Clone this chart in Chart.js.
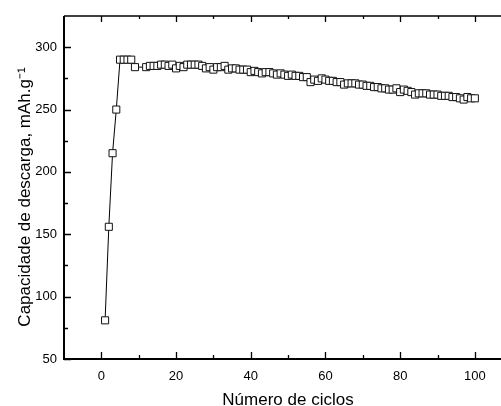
<!DOCTYPE html>
<html>
<head>
<meta charset="utf-8">
<script src="https://cdn.jsdelivr.net/npm/chart.js@4/dist/chart.umd.min.js"></script>
<style>
html,body{margin:0;padding:0;background:#fff;overflow:hidden;}
#wrap{width:501px;height:406px;}
canvas{display:block;}
</style>
</head>
<body>
<div id="wrap"><canvas id="c" width="501" height="406"></canvas></div>
<script>
const cycles = [1,2,3,4,5,6,7,8,9,
  12,13,14,15,16,17,18,19,20,21,22,23,24,25,26,27,28,29,30,
  31,32,33,34,35,36,37,38,39,40,41,42,43,44,45,46,47,48,49,50,
  51,52,53,54,55,56,57,58,59,60,61,62,63,64,65,66,67,68,69,70,
  71,72,73,74,75,76,77,78,79,80,81,82,83,84,85,86,87,88,89,90,
  91,92,93,94,95,96,97,98,99,100];
const capacity = [81,156,215,250,290,290,290,290,284,
  284,285,285,285,286,286,285,286,283,285,284,286,286,286,286,285,283,284,282,
  284,284,285,282,283,283,282,282,282,280,281,280,279,280,280,279,278,279,278,277,
  278,277,277,276,276,272,274,273,275,274,273,273,272,272,270,271,271,271,270,270,
  269,269,268,268,267,267,266,266,267,264,266,265,264,262,263,263,263,262,262,262,
  261,261,261,260,260,259,258,260,259,259];
const xTicks = [0,20,40,60,80,100];
const xMinor = [10,30,50,70,90];
const yTicks = [50,100,150,200,250,300];
const yMinor = [75,125,175,225,275];
const xTitle = 'Número de ciclos';
const yTitle = 'Capacidade de descarga, mAh.g\u207B\u00B9';

const FONT = "'Liberation Sans', Arial, sans-serif";

const framePlugin = {
  id: 'frame',
  afterDatasetsDraw(chart) {
    const {ctx, chartArea: a, scales: {x, y}} = chart;
    ctx.save();
    ctx.strokeStyle = '#000';
    ctx.lineWidth = 2;
    ctx.beginPath();
    ctx.moveTo(a.left, a.top);
    ctx.lineTo(a.left, a.bottom);
    ctx.lineTo(a.right, a.bottom);
    ctx.stroke();
    ctx.lineWidth = 1.5;
    ctx.beginPath();
    ctx.moveTo(a.left, a.top);
    ctx.lineTo(a.right, a.top);
    ctx.stroke();
    ctx.lineWidth = 1.3;
    ctx.beginPath();
    const tick = (vals, len) => {
      vals.forEach(v => {
        const px = Math.round(x.getPixelForValue(v)) + 0.5;
        ctx.moveTo(px, a.bottom); ctx.lineTo(px, a.bottom - len);
        ctx.moveTo(px, a.top); ctx.lineTo(px, a.top + len - 1);
      });
    };
    tick(xTicks, 7); tick(xMinor, 4);
    const ytick = (vals, len) => {
      vals.forEach(v => {
        const py = Math.round(y.getPixelForValue(v)) + 0.5;
        ctx.moveTo(a.left, py); ctx.lineTo(a.left + len, py);
      });
    };
    ytick(yTicks, 7); ytick(yMinor, 4);
    ctx.stroke();
    // axis titles
    ctx.fillStyle = '#000';
    ctx.font = "17px " + FONT;
    ctx.textAlign = 'center';
    ctx.textBaseline = 'alphabetic';
    ctx.fillText(xTitle, 288, 404.5);
    ctx.translate(30, 197);
    ctx.rotate(-Math.PI / 2);
    ctx.fillText(yTitle, 0, 0);
    ctx.restore();
  }
};

new Chart(document.getElementById('c'), {
  type: 'line',
  data: {
    datasets: [{
      data: cycles.map((c, i) => ({x: c, y: capacity[i]})),
      borderColor: '#000',
      borderWidth: 1,
      tension: 0,
      pointStyle: 'rect',
      pointRadius: 5,
      pointBorderWidth: 1,
      pointBorderColor: '#111',
      pointBackgroundColor: '#fff',
      fill: false
    }]
  },
  options: {
    responsive: false,
    animation: false,
    devicePixelRatio: 1,
    layout: {autoPadding: false, padding: {left: 0, right: 0, top: 16, bottom: 0}},
    plugins: {legend: {display: false}, tooltip: {enabled: false}},
    scales: {
      x: {
        type: 'linear', min: -10, max: 107,
        grid: {display: false, drawTicks: false},
        border: {display: false},
        afterBuildTicks: s => { s.ticks = xTicks.map(v => ({value: v})); },
        afterFit: s => { s.height = 47; s.paddingLeft = 0; s.paddingRight = 0; },
        ticks: {font: {family: FONT, size: 13}, color: '#000', padding: 10, maxRotation: 0, autoSkip: false},
        title: {display: false}
      },
      y: {
        type: 'linear', min: 50, max: 325,
        grid: {display: false, drawTicks: false},
        border: {display: false},
        afterBuildTicks: s => { s.ticks = yTicks.map(v => ({value: v})); },
        afterFit: s => { s.width = 64; s.paddingTop = 0; s.paddingBottom = 0; },
        ticks: {font: {family: FONT, size: 13}, color: '#000', padding: 7, autoSkip: false},
        title: {display: false}
      }
    }
  },
  plugins: [framePlugin]
});
</script>
</body>
</html>
